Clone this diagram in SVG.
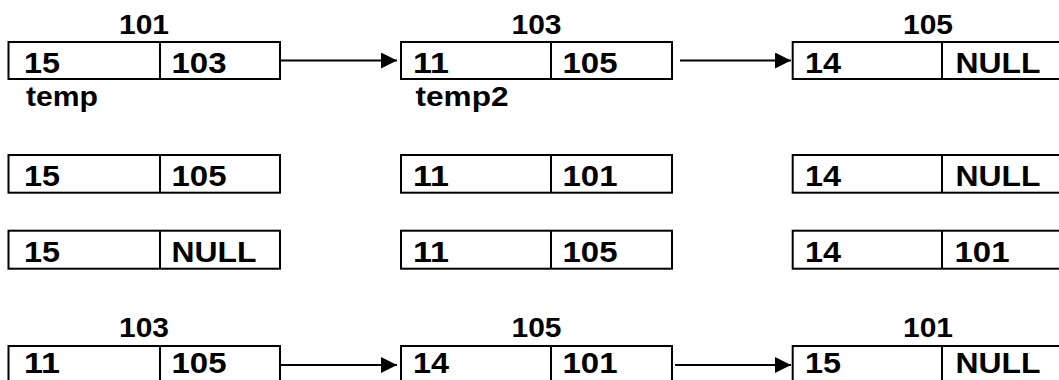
<svg xmlns="http://www.w3.org/2000/svg" width="1059" height="380" viewBox="0 0 1059 380">
<style>
.box{fill:#fff;stroke:#000;stroke-width:2}
.div{stroke:#000;stroke-width:2}
.t{font-family:"Liberation Sans",Arial,sans-serif;font-weight:bold;font-size:30px;fill:#000}
.l{font-family:"Liberation Sans",Arial,sans-serif;font-weight:bold;font-size:27px;fill:#000}
.c{stroke:#000;stroke-width:2;fill:none}
</style>
<defs>
<marker id="ah" markerUnits="userSpaceOnUse" markerWidth="16" markerHeight="16" viewBox="0 0 16 16" refX="16" refY="8" orient="auto">
<path d="M0,0 L16,8 L0,16 Z" fill="#000"/>
</marker>
</defs>
<rect width="1059" height="380" fill="#fff"/>

<!-- Row 1 -->
<g id="r1a">
<text class="l" x="144" y="34" text-anchor="middle" textLength="50" lengthAdjust="spacingAndGlyphs">101</text>
<rect class="box" x="8.5" y="42" width="271.5" height="37"/>
<line class="div" x1="160" y1="42" x2="160" y2="79"/>
<text class="t" x="24" y="73" textLength="36" lengthAdjust="spacingAndGlyphs">15</text>
<text class="t" x="171.5" y="73" textLength="55" lengthAdjust="spacingAndGlyphs">103</text>
<text class="l" x="26" y="106" textLength="72" lengthAdjust="spacingAndGlyphs">temp</text>
</g>
<g id="r1b">
<text class="l" x="536.5" y="34" text-anchor="middle" textLength="50" lengthAdjust="spacingAndGlyphs">103</text>
<rect class="box" x="401" y="42" width="271" height="37"/>
<line class="div" x1="551" y1="42" x2="551" y2="79"/>
<text class="t" x="413" y="73" textLength="36" lengthAdjust="spacingAndGlyphs">11</text>
<text class="t" x="562.5" y="73" textLength="55" lengthAdjust="spacingAndGlyphs">105</text>
<text class="l" x="415.5" y="106" textLength="93" lengthAdjust="spacingAndGlyphs">temp2</text>
</g>
<g id="r1c">
<text class="l" x="928" y="34" text-anchor="middle" textLength="50" lengthAdjust="spacingAndGlyphs">105</text>
<rect class="box" x="792.7" y="42" width="271" height="37"/>
<line class="div" x1="942" y1="42" x2="942" y2="79"/>
<text class="t" x="805" y="73" textLength="36" lengthAdjust="spacingAndGlyphs">14</text>
<text class="t" x="955.5" y="73" textLength="85" lengthAdjust="spacingAndGlyphs">NULL</text>
</g>

<!-- Row 2 -->
<g id="r2a">
<rect class="box" x="8.5" y="155" width="271.5" height="37.7"/>
<line class="div" x1="160" y1="155" x2="160" y2="192.7"/>
<text class="t" x="24" y="186" textLength="36" lengthAdjust="spacingAndGlyphs">15</text>
<text class="t" x="171.5" y="186" textLength="55" lengthAdjust="spacingAndGlyphs">105</text>
</g>
<g id="r2b">
<rect class="box" x="401" y="155" width="271" height="37.7"/>
<line class="div" x1="551" y1="155" x2="551" y2="192.7"/>
<text class="t" x="413" y="186" textLength="36" lengthAdjust="spacingAndGlyphs">11</text>
<text class="t" x="562.5" y="186" textLength="55" lengthAdjust="spacingAndGlyphs">101</text>
</g>
<g id="r2c">
<rect class="box" x="792.7" y="155" width="271" height="37.7"/>
<line class="div" x1="942" y1="155" x2="942" y2="192.7"/>
<text class="t" x="805" y="186" textLength="36" lengthAdjust="spacingAndGlyphs">14</text>
<text class="t" x="955.5" y="186" textLength="85" lengthAdjust="spacingAndGlyphs">NULL</text>
</g>

<!-- Row 3 -->
<g id="r3a">
<rect class="box" x="8.5" y="230.7" width="271.5" height="38"/>
<line class="div" x1="160" y1="230.7" x2="160" y2="268.7"/>
<text class="t" x="24" y="262" textLength="36" lengthAdjust="spacingAndGlyphs">15</text>
<text class="t" x="171.5" y="262" textLength="85" lengthAdjust="spacingAndGlyphs">NULL</text>
</g>
<g id="r3b">
<rect class="box" x="401" y="230.7" width="271" height="38"/>
<line class="div" x1="551" y1="230.7" x2="551" y2="268.7"/>
<text class="t" x="413" y="262" textLength="36" lengthAdjust="spacingAndGlyphs">11</text>
<text class="t" x="562.5" y="262" textLength="55" lengthAdjust="spacingAndGlyphs">105</text>
</g>
<g id="r3c">
<rect class="box" x="792.7" y="230.7" width="271" height="38"/>
<line class="div" x1="942" y1="230.7" x2="942" y2="268.7"/>
<text class="t" x="805" y="262" textLength="36" lengthAdjust="spacingAndGlyphs">14</text>
<text class="t" x="954.5" y="262" textLength="55" lengthAdjust="spacingAndGlyphs">101</text>
</g>

<!-- Row 4 -->
<g id="r4a">
<text class="l" x="144" y="336.7" text-anchor="middle" textLength="50" lengthAdjust="spacingAndGlyphs">103</text>
<rect class="box" x="8.5" y="346" width="271.5" height="37"/>
<line class="div" x1="160" y1="346" x2="160" y2="383"/>
<text class="t" x="24" y="373" textLength="36" lengthAdjust="spacingAndGlyphs">11</text>
<text class="t" x="171.5" y="373" textLength="55" lengthAdjust="spacingAndGlyphs">105</text>
</g>
<g id="r4b">
<text class="l" x="536.5" y="336.7" text-anchor="middle" textLength="50" lengthAdjust="spacingAndGlyphs">105</text>
<rect class="box" x="401" y="346" width="271" height="37"/>
<line class="div" x1="551" y1="346" x2="551" y2="383"/>
<text class="t" x="413" y="373" textLength="36" lengthAdjust="spacingAndGlyphs">14</text>
<text class="t" x="562.5" y="373" textLength="55" lengthAdjust="spacingAndGlyphs">101</text>
</g>
<g id="r4c">
<text class="l" x="928" y="336.7" text-anchor="middle" textLength="50" lengthAdjust="spacingAndGlyphs">101</text>
<rect class="box" x="792.7" y="346" width="271" height="37"/>
<line class="div" x1="942" y1="346" x2="942" y2="383"/>
<text class="t" x="805" y="373" textLength="36" lengthAdjust="spacingAndGlyphs">15</text>
<text class="t" x="955.5" y="373" textLength="85" lengthAdjust="spacingAndGlyphs">NULL</text>
</g>

<g id="connectors">
<line class="c" x1="281" y1="60.5" x2="397" y2="60.5" marker-end="url(#ah)"/>
<line class="c" x1="680" y1="60.5" x2="791" y2="60.5" marker-end="url(#ah)"/>
<line class="c" x1="281" y1="365" x2="397" y2="365" marker-end="url(#ah)"/>
<line class="c" x1="675" y1="365" x2="791" y2="365" marker-end="url(#ah)"/>
</g>
</svg>
